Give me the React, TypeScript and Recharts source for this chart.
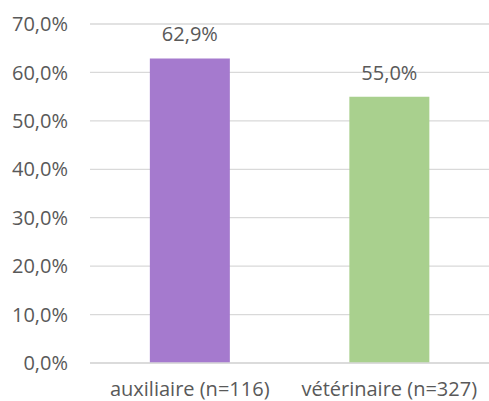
import { BarChart, Bar, XAxis, YAxis, CartesianGrid, LabelList, Cell } from "recharts";

const categories = ["auxiliaire (n=116)", "vétérinaire (n=327)"];
const shares = [0.629, 0.55];
const barColors = ["#A57ACE", "#A9D08E"];
const yTicks = [0, 0.1, 0.2, 0.3, 0.4, 0.5, 0.6, 0.7];

const data = categories.map((name, i) => ({ name, value: shares[i] }));

const pct = (v: number) => (v * 100).toFixed(1).replace(".", ",") + "%";

const textStyle = { fill: "#595959", fontSize: 20, fontFamily: "'Open Sans', sans-serif" };

export default function App() {
  return (
    <div style={{ position: "absolute", left: 0, top: 0, background: "#fff" }}>
      <BarChart
        width={489}
        height={401}
        data={data}
        margin={{ top: 24, right: 0, bottom: 0, left: 0 }}
        barCategoryGap="30%"
      >
        <CartesianGrid horizontal vertical={false} stroke="#D9D9D9" strokeWidth={1.3} />
        <XAxis
          dataKey="name"
          height={38}
          tickLine={false}
          axisLine={{ stroke: "#D9D9D9", strokeWidth: 1.3 }}
          tickSize={0}
          tickMargin={19}
          tick={textStyle}
          interval={0}
        />
        <YAxis
          width={90}
          domain={[0, 0.7]}
          ticks={yTicks}
          tickFormatter={pct}
          axisLine={false}
          tickLine={false}
          tickSize={0}
          tickMargin={22}
          tick={textStyle}
        />
        <Bar dataKey="value" isAnimationActive={false}>
          {data.map((d, i) => (
            <Cell key={d.name} fill={barColors[i]} />
          ))}
          <LabelList dataKey="value" position="top" offset={17} formatter={(v: any) => pct(Number(v))} style={textStyle} />
        </Bar>
      </BarChart>
    </div>
  );
}
